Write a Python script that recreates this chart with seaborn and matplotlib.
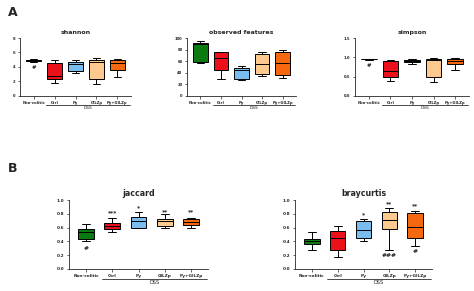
import matplotlib
matplotlib.use('Agg')
import matplotlib.pyplot as plt
import matplotlib.transforms as mtrans
import numpy as np
import pandas as pd
import seaborn as sns


groups = ['Non-colitic', 'Ctrl', 'Py', 'GILZp', 'Py+GILZp']
colors = ['#0b7a10', '#ec101a', '#78bcf0', '#fdc98e', '#f5680f']

# five-number summaries per group: min, q1, median, q3, max
shannon = [[4.75, 4.85, 4.95, 5.0, 5.1],
           [1.8, 2.4, 2.7, 4.6, 4.9],
           [3.2, 3.5, 4.4, 4.75, 4.9],
           [1.7, 2.3, 4.7, 5.0, 5.3],
           [2.6, 3.6, 4.6, 5.0, 5.1]]
observed = [[57, 59, 90, 92, 95],
            [29, 45, 66, 75, 75],
            [27, 30, 45, 49, 51],
            [35, 38, 56, 72, 75],
            [31, 37, 57, 76, 80]]
simpson = [[0.94, 0.95, 0.955, 0.96, 0.965],
           [0.38, 0.50, 0.65, 0.90, 0.92],
           [0.83, 0.87, 0.91, 0.94, 0.95],
           [0.35, 0.50, 0.94, 0.96, 0.97],
           [0.68, 0.82, 0.90, 0.96, 0.97]]
jaccard = [[0.40, 0.43, 0.54, 0.58, 0.65],
           [0.54, 0.58, 0.63, 0.66, 0.74],
           [0.59, 0.60, 0.70, 0.76, 0.82],
           [0.59, 0.62, 0.69, 0.73, 0.79],
           [0.59, 0.64, 0.68, 0.72, 0.74]]
braycurtis = [[0.27, 0.36, 0.40, 0.44, 0.54],
              [0.18, 0.27, 0.45, 0.55, 0.62],
              [0.41, 0.45, 0.56, 0.70, 0.72],
              [0.28, 0.58, 0.71, 0.82, 0.89],
              [0.34, 0.45, 0.61, 0.81, 0.84]]

# significance marks: (group index, y value, text)
shannon_marks = [(0, 3.95, '#')]
observed_marks = []
simpson_marks = [(0, 0.80, '#')]
jaccard_marks = [(0, 0.30, '#'), (1, 0.82, '***'), (2, 0.89, '*'),
                 (3, 0.83, '**'), (4, 0.83, '**')]
braycurtis_marks = [(2, 0.79, '*'), (3, 0.95, '**'), (3, 0.20, '###'),
                    (4, 0.92, '**'), (4, 0.26, '#')]

W, H = 474, 291


def to_frame(summaries):
    rows = []
    for g, vals in zip(groups, summaries):
        for v in vals:
            rows.append({'group': g, 'value': v})
    return pd.DataFrame(rows)


def panel(box, summaries, title, ylim, yticks, yfmt, marks,
          tsize, lsize, bw):
    l, t, r, b = box
    ax = fig.add_axes([l / W, 1 - b / H, (r - l) / W, (b - t) / H])
    df = to_frame(summaries)
    sns.boxplot(data=df, x='group', y='value', hue='group', order=groups,
                palette=colors, saturation=1, whis=(0, 100), width=bw,
                linewidth=0.7, linecolor='black', fliersize=0,
                legend=False, ax=ax)
    ax.set_xlim(-0.65, 4.65)
    ax.set_ylim(*ylim)
    ax.set_yticks(yticks)
    ax.set_yticklabels([yfmt.format(v) for v in yticks])
    ax.set_xlabel('')
    ax.set_ylabel('')
    ax.set_title(title, fontsize=tsize, fontweight='bold', pad=3)
    for s in ['top', 'right']:
        ax.spines[s].set_visible(False)
    for s in ['left', 'bottom']:
        ax.spines[s].set_linewidth(0.6)
    ax.tick_params(labelsize=lsize, width=0.5, length=1.8, pad=1.5)
    for lab in ax.get_xticklabels() + ax.get_yticklabels():
        lab.set_fontweight('bold')
    for gi, y, txt in marks:
        ax.text(gi, y, txt, ha='center', va='center', fontsize=lsize + 1.2,
                fontweight='bold')
    # DSS bracket under the treated groups
    trans = mtrans.blended_transform_factory(ax.transData, ax.transAxes)
    ly = -9.5 / (b - t)
    ax.plot([0.6, 4.6], [ly, ly], color='black', lw=0.5, transform=trans,
            clip_on=False)
    ax.text(2.6, ly - 1.0 / (b - t), 'DSS', ha='center', va='top',
            fontsize=lsize + 0.5, transform=trans)
    return ax


fig = plt.figure(figsize=(W / 100, H / 100), dpi=100)
sns.set_style('ticks')

panel((20, 38, 131, 96), shannon, 'shannon', (0, 8), [0, 2, 4, 6, 8],
      '{:g}', shannon_marks, 4.5, 2.7, 0.7)
panel((187, 38, 296, 96), observed, 'observed features', (0, 100),
      [0, 20, 40, 60, 80, 100], '{:g}', observed_marks, 4.5, 2.7, 0.7)
panel((355, 38, 469, 96), simpson, 'simpson', (0, 1.5),
      [0.0, 0.5, 1.0, 1.5], '{:.1f}', simpson_marks, 4.5, 2.7, 0.7)
panel((69, 200, 208, 269), jaccard, 'jaccard', (0, 1.0),
      [0.0, 0.2, 0.4, 0.6, 0.8, 1.0], '{:.1f}', jaccard_marks, 5.7, 3.1, 0.6)
panel((295, 200, 432, 269), braycurtis, 'braycurtis', (0, 1.0),
      [0.0, 0.2, 0.4, 0.6, 0.8, 1.0], '{:.1f}', braycurtis_marks, 5.7, 3.1,
      0.6)

fig.text(8 / W, 1 - 12 / H, 'A', fontsize=9, fontweight='bold',
         ha='left', va='center')
fig.text(8 / W, 1 - 168 / H, 'B', fontsize=9, fontweight='bold',
         ha='left', va='center')

fig.savefig('out.png', dpi=100)
